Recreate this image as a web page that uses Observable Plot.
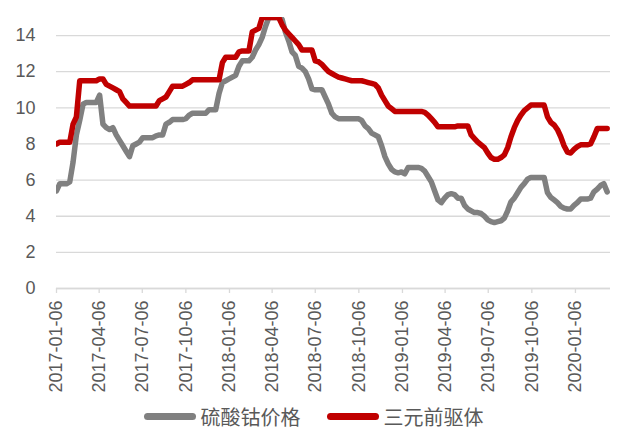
<!DOCTYPE html>
<html>
<head>
<meta charset="utf-8">
<script src="https://cdn.jsdelivr.net/npm/d3@7"></script>
<script src="https://cdn.jsdelivr.net/npm/@observablehq/plot@0.6"></script>
<style>
  html, body { margin: 0; padding: 0; background: #fff; }
  #wrap { width: 627px; height: 430px; position: relative; overflow: hidden; }
  #legend { position: absolute; left: 0; top: 401px; width: 627px; height: 30px;
    display: flex; justify-content: center; align-items: center; gap: 0;
    font-family: "Noto Sans CJK SC", sans-serif; font-size: 20px; color: #595959; padding-left: 0; }
  .item { display: flex; align-items: center; margin: 0 13px; }
  .sw { width: 52px; height: 7px; border-radius: 4px; margin-right: 5px; }
</style>
</head>
<body>
<div id="wrap"><div id="chart"></div><div id="legend"></div></div>
<script>
const seriesNames = ["硫酸钴价格", "三元前驱体"];
const seriesColors = ["#808080", "#c00000"];

const dates = [
"2017-01-06","2017-01-13","2017-01-20","2017-01-27","2017-02-03","2017-02-10","2017-02-17","2017-02-24",
"2017-03-03","2017-03-10","2017-03-17","2017-03-24","2017-03-31","2017-04-07","2017-04-14","2017-04-21","2017-04-28",
"2017-05-05","2017-05-12","2017-05-19","2017-05-26","2017-06-02","2017-06-09","2017-06-16","2017-06-23","2017-06-30",
"2017-07-07","2017-07-14","2017-07-21","2017-07-28","2017-08-04","2017-08-11","2017-08-18","2017-08-25",
"2017-09-01","2017-09-08","2017-09-15","2017-09-22","2017-09-29","2017-10-06","2017-10-13","2017-10-20","2017-10-27",
"2017-11-03","2017-11-10","2017-11-17","2017-11-24","2017-12-01","2017-12-08","2017-12-15","2017-12-22","2017-12-29",
"2018-01-05","2018-01-12","2018-01-19","2018-01-26","2018-02-02","2018-02-09","2018-02-16","2018-02-23",
"2018-03-02","2018-03-09","2018-03-16","2018-03-23","2018-03-30","2018-04-06","2018-04-13","2018-04-20","2018-04-27",
"2018-05-04","2018-05-11","2018-05-18","2018-05-25","2018-06-01","2018-06-08","2018-06-15","2018-06-22","2018-06-29",
"2018-07-06","2018-07-13","2018-07-20","2018-07-27","2018-08-03","2018-08-10","2018-08-17","2018-08-24","2018-08-31",
"2018-09-07","2018-09-14","2018-09-21","2018-09-28","2018-10-05","2018-10-12","2018-10-19","2018-10-26",
"2018-11-02","2018-11-09","2018-11-16","2018-11-23","2018-11-30","2018-12-07","2018-12-14","2018-12-21","2018-12-28",
"2019-01-04","2019-01-11","2019-01-18","2019-01-25","2019-02-01","2019-02-08","2019-02-15","2019-02-22",
"2019-03-01","2019-03-08","2019-03-15","2019-03-22","2019-03-29","2019-04-05","2019-04-12","2019-04-19","2019-04-26",
"2019-05-03","2019-05-10","2019-05-17","2019-05-24","2019-05-31","2019-06-07","2019-06-14","2019-06-21","2019-06-28",
"2019-07-05","2019-07-12","2019-07-19","2019-07-26","2019-08-02","2019-08-09","2019-08-16","2019-08-23","2019-08-30",
"2019-09-06","2019-09-13","2019-09-20","2019-09-27","2019-10-04","2019-10-11","2019-10-18","2019-10-25",
"2019-11-01","2019-11-08","2019-11-15","2019-11-22","2019-11-29","2019-12-06","2019-12-13","2019-12-20","2019-12-27",
"2020-01-03","2020-01-10","2020-01-17","2020-01-24","2020-01-31","2020-02-07","2020-02-14","2020-02-21","2020-02-28",
"2020-03-06","2020-03-13"
];

const cobaltSulfate = [
5.4,5.8,5.8,5.8,5.9,7.0,8.5,9.3,10.2,10.3,
10.3,10.3,10.3,10.7,9.1,8.9,8.8,8.9,8.5,8.2,
7.9,7.6,7.3,7.9,8.0,8.1,8.35,8.35,8.35,8.35,
8.45,8.5,8.5,9.1,9.2,9.35,9.35,9.35,9.35,9.4,
9.6,9.7,9.7,9.7,9.7,9.7,9.9,9.9,9.9,10.8,
11.4,11.5,11.6,11.7,11.8,12.3,12.6,12.6,12.6,12.8,
13.2,13.5,13.9,14.5,15,15,15,15,14.9,14.2,
13.7,13.1,12.9,12.3,12.2,12.0,11.6,11.05,11.0,11.0,
11.0,10.6,10.2,9.7,9.5,9.4,9.4,9.4,9.4,9.4,
9.4,9.4,9.3,9.0,8.85,8.6,8.5,8.4,7.9,7.3,
6.9,6.6,6.45,6.4,6.45,6.35,6.7,6.7,6.7,6.7,
6.65,6.5,6.2,5.9,5.4,4.9,4.75,5.0,5.2,5.25,
5.2,5.0,5.0,4.6,4.4,4.3,4.2,4.2,4.15,4.0,
3.8,3.7,3.65,3.7,3.75,3.9,4.3,4.8,5.0,5.3,
5.6,5.8,6.05,6.15,6.15,6.15,6.15,6.15,5.3,5.05,
4.9,4.75,4.55,4.45,4.4,4.4,4.6,4.75,4.95,4.95,
4.95,5.0,5.35,5.5,5.7,5.8,5.35
];

const precursor = [
8.0,8.1,8.1,8.1,8.1,9.1,9.5,11.5,11.5,11.5,
11.5,11.5,11.5,11.6,11.6,11.3,11.2,11.1,11.0,10.9,
10.5,10.3,10.1,10.1,10.1,10.1,10.1,10.1,10.1,10.1,
10.1,10.4,10.5,10.6,10.9,11.2,11.2,11.2,11.2,11.3,
11.4,11.55,11.55,11.55,11.55,11.55,11.55,11.55,11.55,11.55,
12.5,12.8,12.8,12.8,12.8,13.1,13.15,13.15,13.15,14.2,
14.3,14.4,15,15,15,15,15,15,14.6,14.3,
14.1,13.9,13.7,13.5,13.2,13.2,13.2,13.2,12.6,12.55,
12.4,12.2,12.0,11.9,11.8,11.7,11.65,11.6,11.55,11.5,
11.5,11.5,11.5,11.45,11.4,11.35,11.3,11.1,10.7,10.4,
10.1,9.95,9.8,9.8,9.8,9.8,9.8,9.8,9.8,9.8,
9.8,9.75,9.6,9.4,9.2,8.95,8.95,8.95,8.95,8.95,
8.95,9.0,9.0,9.0,9.0,8.5,8.3,8.1,7.95,7.8,
7.5,7.25,7.15,7.15,7.25,7.4,7.8,8.4,8.9,9.3,
9.6,9.85,10.0,10.15,10.15,10.15,10.15,10.15,9.5,9.2,
9.05,8.8,8.4,7.9,7.55,7.5,7.7,7.85,7.95,7.95,
7.95,8.0,8.4,8.85,8.85,8.85,8.85
];

const xTickLabels = ["2017-01-06","2017-04-06","2017-07-06","2017-10-06","2018-01-06","2018-04-06",
  "2018-07-06","2018-10-06","2019-01-06","2019-04-06","2019-07-06","2019-10-06","2020-01-06"];
const yTicks = [0, 2, 4, 6, 8, 10, 12, 14];

const parse = d3.utcParse("%Y-%m-%d");
const rows = [];
dates.forEach((d, i) => {
  rows.push({date: parse(d), value: cobaltSulfate[i], series: seriesNames[0]});
});
dates.forEach((d, i) => {
  rows.push({date: parse(d), value: precursor[i], series: seriesNames[1]});
});
const xTicks = xTickLabels.map(parse);

const chart = Plot.plot({
  width: 627,
  height: 401,
  marginLeft: 56,
  marginRight: 17,
  marginTop: 17,
  marginBottom: 113,
  style: {fontFamily: "'Liberation Sans', Arial, sans-serif", fontSize: "18px", color: "#595959", background: "#fff"},
  x: {type: "utc", domain: [parse("2017-01-06"), parse("2020-03-20")]},
  y: {domain: [0, 15]},
  color: {domain: seriesNames, range: seriesColors},
  marks: [
    Plot.gridY(yTicks, {stroke: "#d9d9d9", strokeOpacity: 1, strokeWidth: 1.3}),
    Plot.axisY(yTicks, {tickSize: 0, tickPadding: 21, fontSize: 18, fill: "#595959", label: null}),
    Plot.axisX(xTicks, {tickSize: 5, tickPadding: 7, tickRotate: -90, stroke: "#d9d9d9", strokeWidth: 1.3,
      fill: "#595959", fontSize: 18, tickFormat: d3.utcFormat("%Y-%m-%d"), label: null}),
    Plot.ruleY([0], {stroke: "#d9d9d9", strokeWidth: 1.3}),
    Plot.lineY(rows, {x: "date", y: "value", z: "series", stroke: "series", strokeWidth: 5.5,
      strokeLinejoin: "round", strokeLinecap: "round", clip: true})
  ]
});
document.getElementById("chart").appendChild(chart);

const legend = document.getElementById("legend");
seriesNames.forEach((name, i) => {
  const item = document.createElement("div");
  item.className = "item";
  const sw = document.createElement("div");
  sw.className = "sw";
  sw.style.background = seriesColors[i];
  const t = document.createElement("span");
  t.textContent = name;
  item.appendChild(sw);
  item.appendChild(t);
  legend.appendChild(item);
});
</script>
</body>
</html>
